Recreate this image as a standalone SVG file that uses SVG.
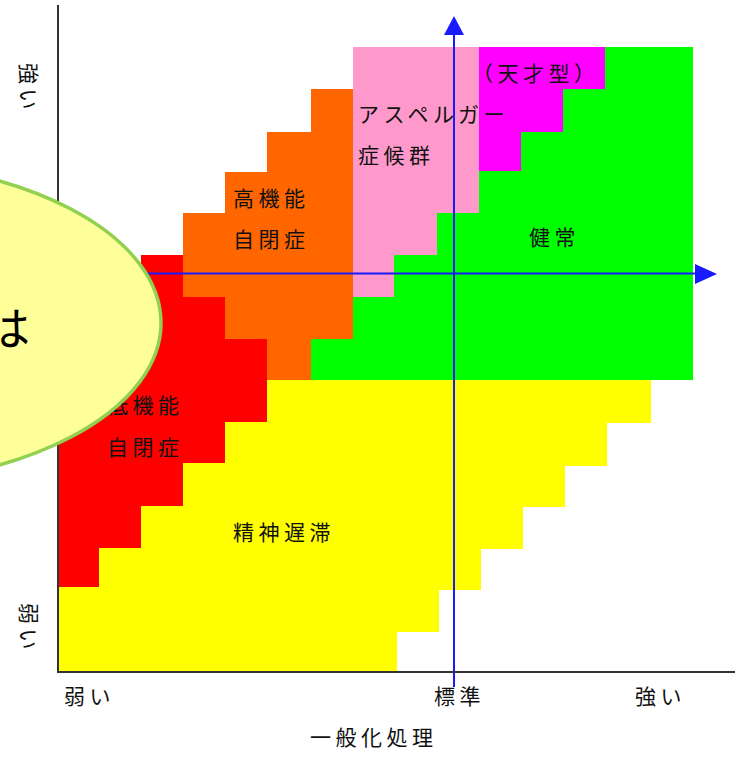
<svg xmlns="http://www.w3.org/2000/svg" width="740" height="757" viewBox="0 0 740 757">
<style>
.lbl{font-family:"Noto Sans CJK JP","Noto Sans CJK SC",sans-serif;font-size:21px;letter-spacing:4.5px;fill:#111}
.big{font-family:"Noto Sans CJK JP","Noto Sans CJK SC",sans-serif;font-size:46px;fill:#000}
.blue{stroke:#1a1aff;stroke-width:2;fill:none}
.axis{stroke:#333;stroke-width:2;fill:none}
</style>
<rect width="740" height="757" fill="#fff"/>
<g id="normal">
<polygon fill="#00ff00" points="311,339 353,339 353,297 394,297 394,255 437,255 437,213 479,213 479,171 521,171 521,132 563,132 563,89 605,89 605,47 693,47 693,380 311,380"/>
</g>
<g id="asperger">
<polygon fill="#ff99cc" points="353,47 479,47 479,213 437,213 437,255 394,255 394,297 353,297"/>
</g>
<g id="genius">
<polygon fill="#ff00ff" points="479,47 605,47 605,89 563,89 563,132 521,132 521,171 479,171"/>
</g>
<g id="hfa">
<polygon fill="#ff6600" points="311,89 353,89 353,339 311,339 311,380 267,380 267,339 225,339 225,297 183,297 183,213 225,213 225,172 267,172 267,132 311,132"/>
</g>
<g id="lfa">
<polygon fill="#ff0000" points="141,255 183,255 183,297 225,297 225,339 267,339 267,422 225,422 225,463 183,463 183,506 141,506 141,548 99,548 99,587 58,587 58,339 99,339 99,297 141,297"/>
</g>
<g id="mr">
<polygon fill="#ffff00" points="267,380 651,380 651,423 607,423 607,466 565,466 565,507 523,507 523,549 481,549 481,590 439,590 439,632 397,632 397,672 58,672 58,587 99,587 99,548 141,548 141,506 183,506 183,463 225,463 225,422 267,422"/>
</g>
<g id="connectors">
<line class="blue" x1="454" y1="30" x2="454" y2="687"/>
<polygon fill="#1a1aff" points="454,16 444,35 464,35"/>
<line class="blue" x1="100" y1="273.5" x2="700" y2="273.5"/>
<polygon fill="#1a1aff" points="717,274 695,264 695,284"/>
<polyline class="axis" points="58,5 58,672 735,672"/>
</g>
<g id="labels">
<text class="lbl" x="233" y="206">高機能</text>
<text class="lbl" x="233" y="247">自閉症</text>
<text class="lbl" x="358" y="122">アスペルガー</text>
<text class="lbl" x="358" y="163">症候群</text>
<text class="lbl" x="472" y="81">（天才型）</text>
<text class="lbl" x="529" y="245">健常</text>
<text class="lbl" x="233" y="540">精神遅滞</text>
<text class="lbl" x="107" y="413">低機能</text>
<text class="lbl" x="107" y="455">自閉症</text>
<text class="lbl" x="64" y="704">弱い</text>
<text class="lbl" x="434" y="704">標準</text>
<text class="lbl" x="635" y="704">強い</text>
<text class="lbl" x="310" y="745">一般化処理</text>
<text class="lbl" transform="translate(21,63) rotate(90)">強い</text>
<text class="lbl" transform="translate(21,603) rotate(90)">弱い</text>
</g>
<g id="callout">
<ellipse cx="-150" cy="323" rx="311" ry="162" fill="#ffff99" stroke="#92d050" stroke-width="3.5"/>
<text class="big" x="30" y="345" text-anchor="end">は</text>
</g>
</svg>
